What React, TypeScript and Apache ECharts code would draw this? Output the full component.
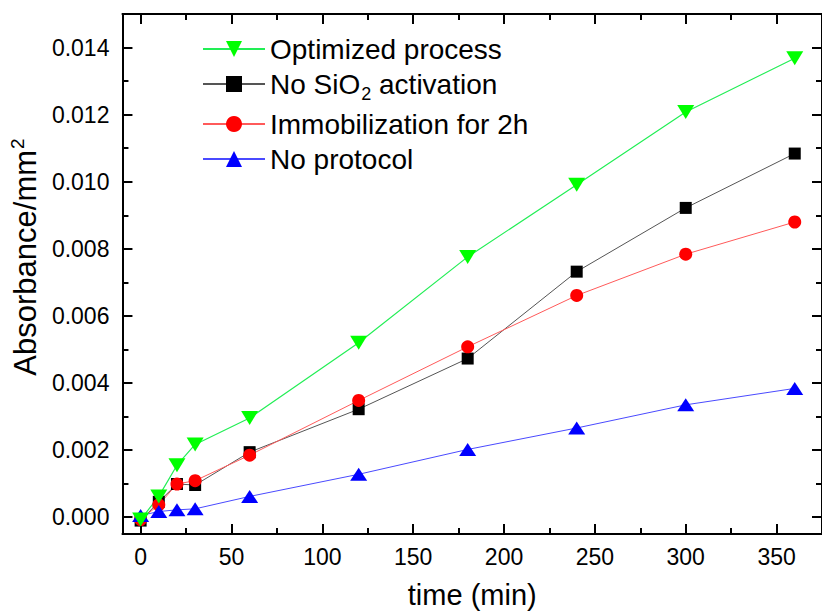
import React, { useEffect, useRef } from 'react';
import * as echarts from 'echarts';

const times = [0, 10, 20, 30, 60, 120, 180, 240, 300, 360];
const optimized = [-0.00007, 0.00062, 0.00155, 0.00217, 0.00296, 0.0052, 0.00776, 0.00991, 0.01208, 0.01368];
const noSiO2 = [-0.0001, 0.00046, 0.00099, 0.00096, 0.00194, 0.00322, 0.00473, 0.00732, 0.00922, 0.01084];
const immob2h = [-0.00007, 0.00037, 0.00099, 0.00109, 0.00185, 0.00348, 0.00508, 0.00661, 0.00784, 0.0088];
const noProtocol = [0.00005, 0.00017, 0.00022, 0.00025, 0.00062, 0.00128, 0.00202, 0.00266, 0.00335, 0.00384];

const xMajor = [0, 50, 100, 150, 200, 250, 300, 350];
const xMinor = [25, 75, 125, 175, 225, 275, 325];
const yMajor = [0, 0.002, 0.004, 0.006, 0.008, 0.01, 0.012, 0.014];
const yMinor = [0.001, 0.003, 0.005, 0.007, 0.009, 0.011, 0.013];

const X_MIN = -10;
const X_MAX = 375;
const Y_MIN = -0.0005;
const Y_MAX = 0.015;

const FONT = 'Liberation Sans, Arial, sans-serif';

function pairs(ys: number[]) {
  return times.map((t, i) => [t, ys[i]]);
}

export default function App() {
  const ref = useRef<HTMLDivElement>(null);
  useEffect(() => {
    if (!ref.current) return;
    const chart = echarts.init(ref.current, undefined, { renderer: 'svg' });
    const axisLine = { show: true, onZero: false, lineStyle: { color: '#000', width: 2 } };
    const noLine = { show: false, onZero: false };
    const xBase = { type: 'value', min: X_MIN, max: X_MAX, gridIndex: 0, splitLine: { show: false } };
    const yBase = { type: 'value', min: Y_MIN, max: Y_MAX, gridIndex: 0, splitLine: { show: false } };
    const majorTick = (vals: number[]) => ({ show: true, inside: true, length: 10, customValues: vals, lineStyle: { color: '#000', width: 2 } });
    const minorTick = (vals: number[]) => ({ show: true, inside: true, length: 6, customValues: vals, lineStyle: { color: '#000', width: 2 } });
    const option: any = {
      animation: false,
      backgroundColor: '#fff',
      grid: { left: 119, top: 14, width: 703, height: 524, containLabel: false },
      xAxis: [
        {
          ...xBase,
          position: 'bottom',
          axisLine,
          axisTick: majorTick(xMajor),
          axisLabel: {
            show: true,
            customValues: xMajor,
            margin: 11,
            color: '#000',
            fontSize: 23,
            fontFamily: FONT,
          },
          name: 'time (min)',
          nameLocation: 'middle',
          nameGap: 46,
          nameTextStyle: { color: '#000', fontSize: 29, fontFamily: FONT },
        },
        { ...xBase, position: 'bottom', axisLine: noLine, axisTick: minorTick(xMinor), axisLabel: { show: false } },
        { ...xBase, position: 'top', axisLine, axisTick: majorTick(xMajor), axisLabel: { show: false } },
        { ...xBase, position: 'top', axisLine: noLine, axisTick: minorTick(xMinor), axisLabel: { show: false } },
      ],
      yAxis: [
        {
          ...yBase,
          position: 'left',
          axisLine,
          axisTick: majorTick(yMajor),
          axisLabel: {
            show: true,
            customValues: yMajor,
            margin: 13,
            color: '#000',
            fontSize: 23,
            fontFamily: FONT,
            formatter: (v: number) => v.toFixed(3),
          },
          name: '{a|Absorbance/mm}{sup|2}',
          nameLocation: 'middle',
          nameGap: 72,
          nameTextStyle: {
            color: '#000',
            fontSize: 31,
            fontFamily: FONT,
            padding: [0, 0, 0, 34],
            rich: {
              a: { fontSize: 31, fontFamily: FONT, color: '#000' },
              sup: { fontSize: 19, fontFamily: FONT, color: '#000', padding: [0, 0, 16, 1] },
            },
          },
        },
        { ...yBase, position: 'left', axisLine: noLine, axisTick: minorTick(yMinor), axisLabel: { show: false } },
        { ...yBase, position: 'right', axisLine, axisTick: majorTick(yMajor), axisLabel: { show: false } },
        { ...yBase, position: 'right', axisLine: noLine, axisTick: minorTick(yMinor), axisLabel: { show: false } },
      ],
      legend: {
        orient: 'vertical',
        left: 197,
        top: 30,
        itemWidth: 62,
        itemHeight: 20,
        itemGap: 7,
        data: ['Optimized process', 'No SiO2 activation', 'Immobilization for 2h', 'No protocol'],
        formatter: (name: string) => (name === 'No SiO2 activation' ? '{t|No SiO}{sub|2}{t| activation}' : '{t|' + name + '}'),
        textStyle: {
          color: '#000',
          fontSize: 28,
          fontFamily: FONT,
          rich: {
            t: { fontSize: 28, fontFamily: FONT, color: '#000' },
            sub: { fontSize: 18, fontFamily: FONT, color: '#000', padding: [20, 0, 0, 1] },
          },
        },
      },
      series: [
        {
          name: 'No SiO2 activation',
          type: 'line',
          data: pairs(noSiO2),
          symbol: 'rect',
          symbolSize: 12,
          itemStyle: { color: '#000' },
          lineStyle: { color: '#555', width: 1 },
        },
        {
          name: 'Immobilization for 2h',
          type: 'line',
          data: pairs(immob2h),
          symbol: 'circle',
          symbolSize: 13,
          itemStyle: { color: '#ff0000' },
          lineStyle: { color: '#ff5a5a', width: 1 },
        },
        {
          name: 'No protocol',
          type: 'line',
          data: pairs(noProtocol),
          symbol: 'triangle',
          symbolSize: [17, 13],
          itemStyle: { color: '#0000ff' },
          lineStyle: { color: '#4a4aff', width: 1 },
        },
        {
          name: 'Optimized process',
          type: 'line',
          data: pairs(optimized),
          symbol: 'triangle',
          symbolRotate: 180,
          symbolSize: [17, 14],
          itemStyle: { color: '#00ff00' },
          lineStyle: { color: '#22ee55', width: 1.2 },
        },
      ],
    };
    chart.setOption(option);
    return () => chart.dispose();
  }, []);
  return <div ref={ref} style={{ position: 'fixed', left: 0, top: 0, width: 822, height: 614 }} />;
}
